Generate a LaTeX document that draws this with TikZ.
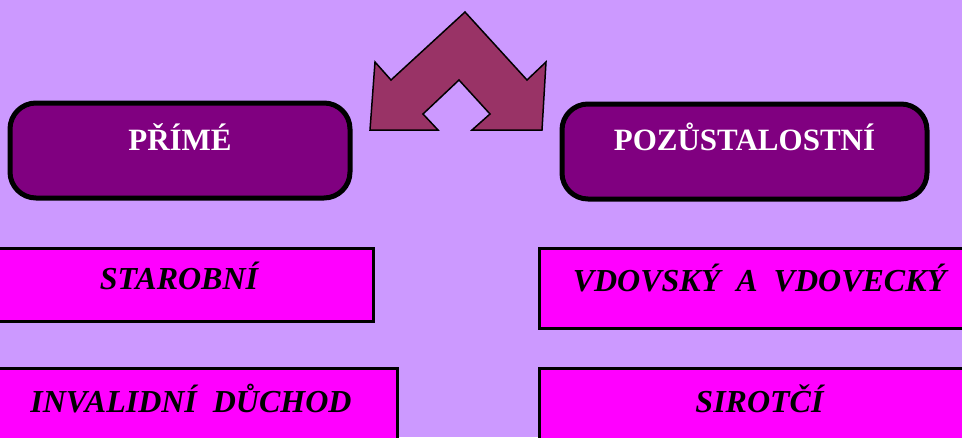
\documentclass[tikz,border=0pt]{standalone}
\usepackage{fontspec}
\setmainfont{Liberation Serif}
\usepackage{tikz}
\usetikzlibrary{arrows.meta, calc, shapes, positioning}
\definecolor{lilac}{RGB}{204,153,255}
\definecolor{plum}{RGB}{128,0,128}
\definecolor{magenta}{RGB}{255,0,255}
\definecolor{wine}{RGB}{153,51,102}

\begin{document}
\begin{tikzpicture}[x=1pt, y=-1pt,
    kindbox/.style={draw=black, fill=plum, line width=5pt, rounded corners=26pt,
        minimum width=340pt, minimum height=95pt},
    kindtext/.style={text=white, font=\fontsize{31}{36}\selectfont\bfseries},
    typebox/.style={draw=black, fill=magenta, line width=3pt, inner sep=0pt,
        font=\fontsize{32}{38}\selectfont\bfseries\itshape}]
        % page and background
        \useasboundingbox (0,0) rectangle (962,437);
        \clip (0,0) rectangle (962,437);
        \fill[lilac] (0,0) rectangle (962,437);

        % double arrow at the top
        \draw[draw=black, fill=wine, line width=1.5pt, line join=miter]
            (465,12) -- (527,80) -- (546,62) -- (542,130) -- (472,130) -- (490,114)
            -- (459,80) -- (423,114) -- (438,130) -- (370,130) -- (375,62)
            -- (391,80) -- cycle;

        % the two kinds
        \node[kindbox] (prime) at (180,150.5) {};
        \node[kindtext] (primelbl) at (180,137) {PŘÍMÉ};
        \node[kindbox, minimum width=365pt] (pozust) at (744.5,151.5) {};
        \node[kindtext] (pozustlbl) at (744.5,137) {POZŮSTALOSTNÍ};

        % the four pensions
        \node[typebox, minimum width=388pt, minimum height=73pt] (starobni) at (179,284.5) {\raisebox{17pt}{STAROBNÍ}};
        \node[typebox, minimum width=412pt, minimum height=82pt] (invalidni) at (191,409) {\raisebox{21pt}{INVALIDNÍ\ \ DŮCHOD}};
        \node[typebox, minimum width=441pt, minimum height=80pt] (vdovsky) at (759.5,288) {\raisebox{21pt}{VDOVSKÝ\ \ A\ \ VDOVECKÝ}};
        \node[typebox, minimum width=441pt, minimum height=82pt] (sirotci) at (759.5,409) {\raisebox{21pt}{SIROTČÍ}};
    \end{tikzpicture}
\end{document}
